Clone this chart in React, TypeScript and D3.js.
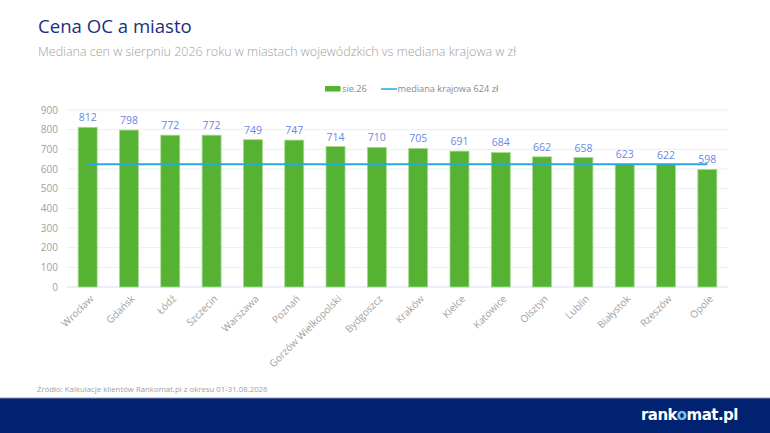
import React from 'react';
import * as d3 from 'd3';

const cities = [
  'Wrocław', 'Gdańsk', 'Łódź', 'Szczecin', 'Warszawa', 'Poznań', 'Gorzów Wielkopolski',
  'Bydgoszcz', 'Kraków', 'Kielce', 'Katowice', 'Olsztyn', 'Lublin', 'Białystok', 'Rzeszów', 'Opole',
];
const prices = [812, 798, 772, 772, 749, 747, 714, 710, 705, 691, 684, 662, 658, 623, 622, 598];
const nationalMedian = 624;
const yTicks = [0, 100, 200, 300, 400, 500, 600, 700, 800, 900];

const W = 770;
const H = 433;
const FONT = '"Open Sans", "Noto Sans", sans-serif';

export default function App() {
  const margin = { left: 67, right: 42, top: 110, bottom: 146 };
  const innerW = W - margin.left - margin.right;
  const innerH = H - margin.top - margin.bottom;

  const x = d3.scaleBand<string>().domain(cities).range([0, innerW]).paddingInner(0.54).paddingOuter(0.27);
  const y = d3.scaleLinear().domain([0, 900]).range([innerH, 0]);

  const first = x(cities[0])! + x.bandwidth() / 2;
  const last = x(cities[cities.length - 1])! + x.bandwidth() / 2;

  return (
    <svg width={W} height={H} style={{ display: 'block', position: 'absolute', left: 0, top: 0 }} fontFamily={FONT}>
      <rect width={W} height={H} fill="#fff" />
      <text x={38} y={33} fontSize={18.6} fill="#1b2f80">Cena OC a miasto</text>
      <text x={38} y={56} fontSize={12.5} fill="#a0a0a0" fontWeight={300}>
        Mediana cen w sierpniu 2026 roku w miastach wojewódzkich vs mediana krajowa w zł
      </text>

      {/* legend */}
      <g fontSize={9.2} fill="#8a8a8a">
        <rect x={325} y={86} width={15.5} height={5.5} fill="#56b233" />
        <text x={342} y={92}>sie.26</text>
        <line x1={381} x2={397} y1={89} y2={89} stroke="#29a8e0" strokeWidth={1.5} />
        <text x={397.5} y={92}>mediana krajowa 624 zł</text>
      </g>

      <g transform={`translate(${margin.left},${margin.top})`}>
        {yTicks.map((t) => (
          <g key={t}>
            <line x1={0} x2={innerW} y1={y(t)} y2={y(t)} stroke={t === 0 ? '#e3eafa' : '#eeeeee'} strokeWidth={t === 0 ? 1.5 : 1} />
            <text x={-9} y={y(t)} dy="0.35em" textAnchor="end" fontSize={10} fill="#a0a0a0">{t}</text>
          </g>
        ))}

        {cities.map((c, i) => (
          <rect
            key={c}
            x={x(c)!}
            y={y(prices[i])}
            width={x.bandwidth()}
            height={innerH - y(prices[i])}
            fill="#56b233"
            stroke="#a8dc94"
            strokeWidth={0.8}
          />
        ))}

        <line x1={first} x2={last} y1={y(nationalMedian)} y2={y(nationalMedian)} stroke="#29a8e0" strokeWidth={2} />

        {cities.map((c, i) => (
          <text
            key={c}
            x={x(c)! + x.bandwidth() / 2}
            y={y(prices[i]) - 6}
            textAnchor="middle"
            fontSize={10.5}
            fill="#6b87e6"
          >
            {prices[i]}
          </text>
        ))}

        {cities.map((c) => {
          const cx = x(c)! + x.bandwidth() / 2 + 4;
          return (
            <text
              key={c}
              transform={`translate(${cx},${innerH + 10}) rotate(-45)`}
              textAnchor="end"
              fontSize={10}
              fill="#a0a0a0"
              dy="0.35em"
            >
              {c}
            </text>
          );
        })}
      </g>

      <text x={37} y={392} fontSize={7.8} fill="#a0a0a0">
        Źródło: Kalkulacje klientów Rankomat.pl z okresu 01-31.08.2026
      </text>

      <rect x={0} y={398} width={W} height={H - 398} fill="#002270" />
      <line x1={0} x2={W} y1={398} y2={398} stroke="#8a93b8" strokeWidth={1} />
      <text x={738} y={420} textAnchor="end" fontSize={15} fontWeight={800} fill="#ffffff" fontFamily='"DejaVu Sans", sans-serif' letterSpacing={-0.5}>
        rank<tspan fill="#6fc6ec">o</tspan>mat.pl
      </text>
    </svg>
  );
}
